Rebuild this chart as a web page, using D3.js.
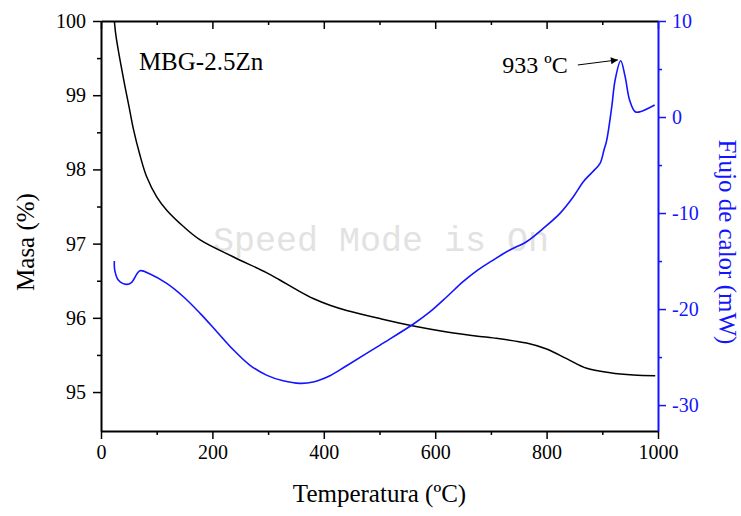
<!DOCTYPE html>
<html><head><meta charset="utf-8">
<script src="https://cdn.jsdelivr.net/npm/d3@7/dist/d3.min.js"></script>
<style>
html,body{margin:0;padding:0;background:#fff;}
svg{display:block;}
text{font-family:"Liberation Serif","Times New Roman",serif;}
</style></head>
<body>
<svg id="chart" width="741" height="516"></svg>
<script>
// Mass (TGA) curve, left axis
const massTemp = [24, 26, 30, 43, 51, 58, 70, 82, 100, 118, 148, 178, 238, 297, 321, 351, 381, 411, 441, 501, 561, 621, 680, 704, 764, 800, 836, 872, 914, 956, 995];
const massVal  = [100.0, 99.85, 99.65, 99.12, 98.82, 98.55, 98.19, 97.9, 97.63, 97.45, 97.23, 97.05, 96.82, 96.61, 96.51, 96.38, 96.26, 96.17, 96.10, 95.99, 95.89, 95.81, 95.75, 95.73, 95.66, 95.58, 95.45, 95.32, 95.26, 95.23, 95.22];
// Heat flow (DSC) curve, right axis
const flowTemp = [24, 24.5, 31, 46, 55, 70, 88, 118, 148, 178, 208, 238, 267, 297, 327, 357, 381, 411, 441, 501, 561, 591, 621, 650, 675, 704, 734, 764, 794, 824, 848, 866, 881, 896, 903, 908, 917, 923, 933, 941, 949, 959, 968, 994];
const flowVal  = [-15.0, -15.9, -16.98, -17.43, -17.22, -16.01, -16.35, -17.33, -18.72, -20.45, -22.36, -24.27, -25.83, -26.88, -27.47, -27.74, -27.6, -26.95, -25.9, -23.75, -21.56, -20.28, -18.72, -17.15, -16.0, -14.9, -13.85, -12.99, -11.6, -10.03, -8.3, -6.74, -5.8, -4.82, -3.44, -2.4, 1.07, 3.85, 5.86, 4.2, 1.77, 0.55, 0.55, 1.25];
// Ticks
const xTicks = [0, 200, 400, 600, 800, 1000];
const xMinor = [100, 300, 500, 700, 900];
const leftTicks = [95, 96, 97, 98, 99, 100];
const leftMinor = [95.5, 96.5, 97.5, 98.5, 99.5];
const rightTicks = [-30, -20, -10, 0, 10];
const rightMinor = [-25, -15, -5, 5];
// Texts
const xTitle = "Temperatura (ºC)";
const leftTitle = "Masa (%)";
const rightTitle = "Flujo de calor (mW)";
const sampleLabel = "MBG-2.5Zn";
const peakLabel = "933 ºC";
const peakArrowFrom = [856, 5.42];
const peakArrowTo = [928, 5.95];
const sampleLabelPos = [68, 99.34];
const peakLabelPos = [838, 4.6];
const watermark = "Speed Mode is On";

const BLUE = "#1414ff";
const SERIF = "'Liberation Serif','Times New Roman',serif";
const svg = d3.select("#chart");
const L = 101, R = 658, T = 21, B = 431;

const x = d3.scaleLinear().domain([0, 1000]).range([L, R]);
const yL = d3.scaleLinear().domain([94.475, 100]).range([B, T]);
const yR = d3.scaleLinear().domain([-32.7, 10]).range([B, T]);

// watermark
svg.append("text").attr("x", 213).attr("y", 251)
  .attr("font-family", "'Liberation Mono','DejaVu Sans Mono',monospace")
  .style("font-family", "'Liberation Mono','DejaVu Sans Mono',monospace")
  .attr("font-size", 35).attr("fill", "#e2e2e2").text(watermark);

// curves
const massData = massTemp.map((t, i) => [t, massVal[i]]);
const flowData = flowTemp.map((t, i) => [t, flowVal[i]]);
svg.append("path").datum(massData)
  .attr("d", d3.line().x(d => x(d[0])).y(d => yL(d[1])).curve(d3.curveCatmullRom.alpha(0.5)))
  .attr("fill", "none").attr("stroke", "#000").attr("stroke-width", 1.5);
svg.append("path").datum(flowData)
  .attr("d", d3.line().x(d => x(d[0])).y(d => yR(d[1])).curve(d3.curveCatmullRom.alpha(0.5)))
  .attr("fill", "none").attr("stroke", BLUE).attr("stroke-width", 1.6);

// axes
const fmt = d => String(d);
function styleAxis(g, color) {
  g.attr("font-family", SERIF).attr("font-size", 20);
  g.selectAll("path.domain").attr("stroke", color).attr("stroke-width", 2);
  g.selectAll(".tick line").attr("stroke", color).attr("stroke-width", 1.5);
  g.selectAll(".tick text").attr("fill", color)
    .attr("font-family", SERIF).style("font-family", SERIF).attr("font-size", 20);
}
// bottom
const gB = svg.append("g").attr("transform", `translate(0,${B})`)
  .call(d3.axisBottom(x).tickValues(xTicks).tickSize(8).tickSizeOuter(0).tickPadding(6).tickFormat(fmt));
styleAxis(gB, "#000");
svg.append("g").attr("transform", `translate(0,${B})`)
  .call(d3.axisBottom(x).tickValues(xMinor).tickSize(4).tickSizeOuter(0).tickFormat(""))
  .call(g => { g.select("path.domain").remove(); styleAxis(g, "#000"); });
// top (no labels, inward ticks)
svg.append("g").attr("transform", `translate(0,${T})`)
  .call(d3.axisBottom(x).tickValues(xTicks).tickSize(8).tickSizeOuter(0).tickFormat(""))
  .call(g => styleAxis(g, "#000"));
svg.append("g").attr("transform", `translate(0,${T})`)
  .call(d3.axisBottom(x).tickValues(xMinor).tickSize(4).tickSizeOuter(0).tickFormat(""))
  .call(g => { g.select("path.domain").remove(); styleAxis(g, "#000"); });
// left
const gL = svg.append("g").attr("transform", `translate(${L},0)`)
  .call(d3.axisLeft(yL).tickValues(leftTicks).tickSize(8).tickSizeOuter(0).tickPadding(7).tickFormat(fmt));
styleAxis(gL, "#000");
svg.append("g").attr("transform", `translate(${L},0)`)
  .call(d3.axisLeft(yL).tickValues(leftMinor).tickSize(4).tickSizeOuter(0).tickFormat(""))
  .call(g => { g.select("path.domain").remove(); styleAxis(g, "#000"); });
// right
const gR = svg.append("g").attr("transform", `translate(${R},0)`)
  .call(d3.axisRight(yR).tickValues(rightTicks).tickSize(8).tickSizeOuter(0).tickPadding(6).tickFormat(fmt));
styleAxis(gR, BLUE);
svg.append("g").attr("transform", `translate(${R},0)`)
  .call(d3.axisRight(yR).tickValues(rightMinor).tickSize(4).tickSizeOuter(0).tickFormat(""))
  .call(g => { g.select("path.domain").remove(); styleAxis(g, BLUE); });

// titles
svg.append("text").attr("x", (L + R) / 2).attr("y", 502).attr("text-anchor", "middle")
  .attr("font-size", 25).attr("fill", "#000").text(xTitle);
svg.append("text").attr("transform", `translate(34,242) rotate(-90)`).attr("text-anchor", "middle")
  .attr("font-size", 25).attr("fill", "#000").text(leftTitle);
svg.append("text").attr("transform", `translate(719,242) rotate(90)`).attr("text-anchor", "middle")
  .attr("font-size", 25).attr("fill", BLUE).text(rightTitle);

// annotations
svg.append("text").attr("x", x(sampleLabelPos[0])).attr("y", yL(sampleLabelPos[1]))
  .attr("font-size", 25).attr("fill", "#000").text(sampleLabel);
svg.append("text").attr("x", x(peakLabelPos[0])).attr("y", yR(peakLabelPos[1])).attr("text-anchor", "end")
  .attr("font-size", 24).attr("fill", "#000").text(peakLabel);

const defs = svg.append("defs");
defs.append("marker").attr("id", "ah").attr("viewBox", "0 0 10 10").attr("refX", 10).attr("refY", 5)
  .attr("markerWidth", 12).attr("markerHeight", 7).attr("markerUnits", "userSpaceOnUse").attr("orient", "auto")
  .append("path").attr("d", "M0,0 L10,5 L0,10 Z").attr("fill", "#000");
svg.append("line")
  .attr("x1", x(peakArrowFrom[0])).attr("y1", yR(peakArrowFrom[1]))
  .attr("x2", x(peakArrowTo[0])).attr("y2", yR(peakArrowTo[1]))
  .attr("stroke", "#000").attr("stroke-width", 1).attr("marker-end", "url(#ah)");
</script>
</body></html>
